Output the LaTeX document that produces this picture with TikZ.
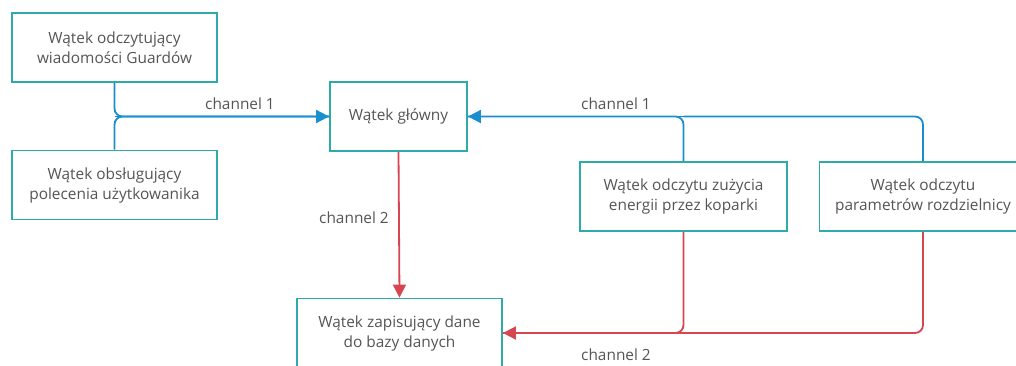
\documentclass[tikz,border=0pt]{standalone}
\usepackage{fontspec}
\setmainfont{Open Sans}
\usetikzlibrary{arrows.meta}
\definecolor{boxteal}{HTML}{2EAAAA}
\definecolor{chblue}{HTML}{1A8FD0}
\definecolor{chred}{HTML}{D64550}
\definecolor{txtgray}{HTML}{555555}
\tikzset{
  thread/.style={draw=boxteal, line width=1.8pt, fill=white, minimum width=205pt,
    minimum height=69pt, align=center, text=txtgray, font=\fontsize{15.4}{20}\selectfont},
  chone/.style={draw=chblue, line width=1.8pt, rounded corners=8pt},
  chtwo/.style={draw=chred, line width=1.8pt, rounded corners=8pt},
  tip/.style={-{Triangle[length=13pt,width=13pt]}},
  chlabel/.style={text=txtgray, font=\fontsize{15.4}{18}\selectfont}
}
\begin{document}
\begin{tikzpicture}[x=1pt, y=-1pt]
  \clip (0,0) rectangle (1016,365);
  \fill[white] (0,0) rectangle (1016,365);
  % watki
  \node[thread] (guard) at (114.5,47.5) {Wątek odczytujący\\wiadomości Guardów};
  \node[thread] (user) at (114.5,185) {Wątek obsługujący\\polecenia użytkowanika};
  \node[thread, minimum width=137pt] (main) at (398.5,116.5) {Wątek główny};
  \node[thread, minimum width=207pt] (energy) at (683.5,196.5) {Wątek odczytu zużycia\\energii przez koparki};
  \node[thread, minimum width=207pt] (params) at (923,196.5) {Wątek odczytu\\parametrów rozdzielnicy};
  \node[thread] (db) at (399.5,333) {Wątek zapisujący dane\\do bazy danych};
  % channel 1
  \coordinate (joinl) at (114.5,116.5);
  \coordinate (joinr) at (683.5,116.5);
  \draw[chone] (guard.south) |- (main.west);
  \draw[chone] (user.north) |- (main.west);
  \draw[chone, tip] (joinl) -- (main.west);
  \draw[chone] (params.north) |- (joinr);
  \draw[chone] (energy.north) |- (main.east);
  \draw[chone, tip] (joinr) -- (main.east);
  \node[chlabel] (lab1) at (240,104) {channel 1};
  \node[chlabel] (lab2) at (616,104) {channel 1};
  % channel 2
  \coordinate (joind) at (683.5,333);
  \draw[chtwo, tip] (main.south) -- (db.north);
  \draw[chtwo] (params.south) |- (joind);
  \draw[chtwo] (energy.south) |- (db.east);
  \draw[chtwo, tip] (joind) -- (db.east);
  \node[chlabel] (lab3) at (354,218) {channel 2};
  \node[chlabel] (lab4) at (616,355) {channel 2};
\end{tikzpicture}
\end{document}
